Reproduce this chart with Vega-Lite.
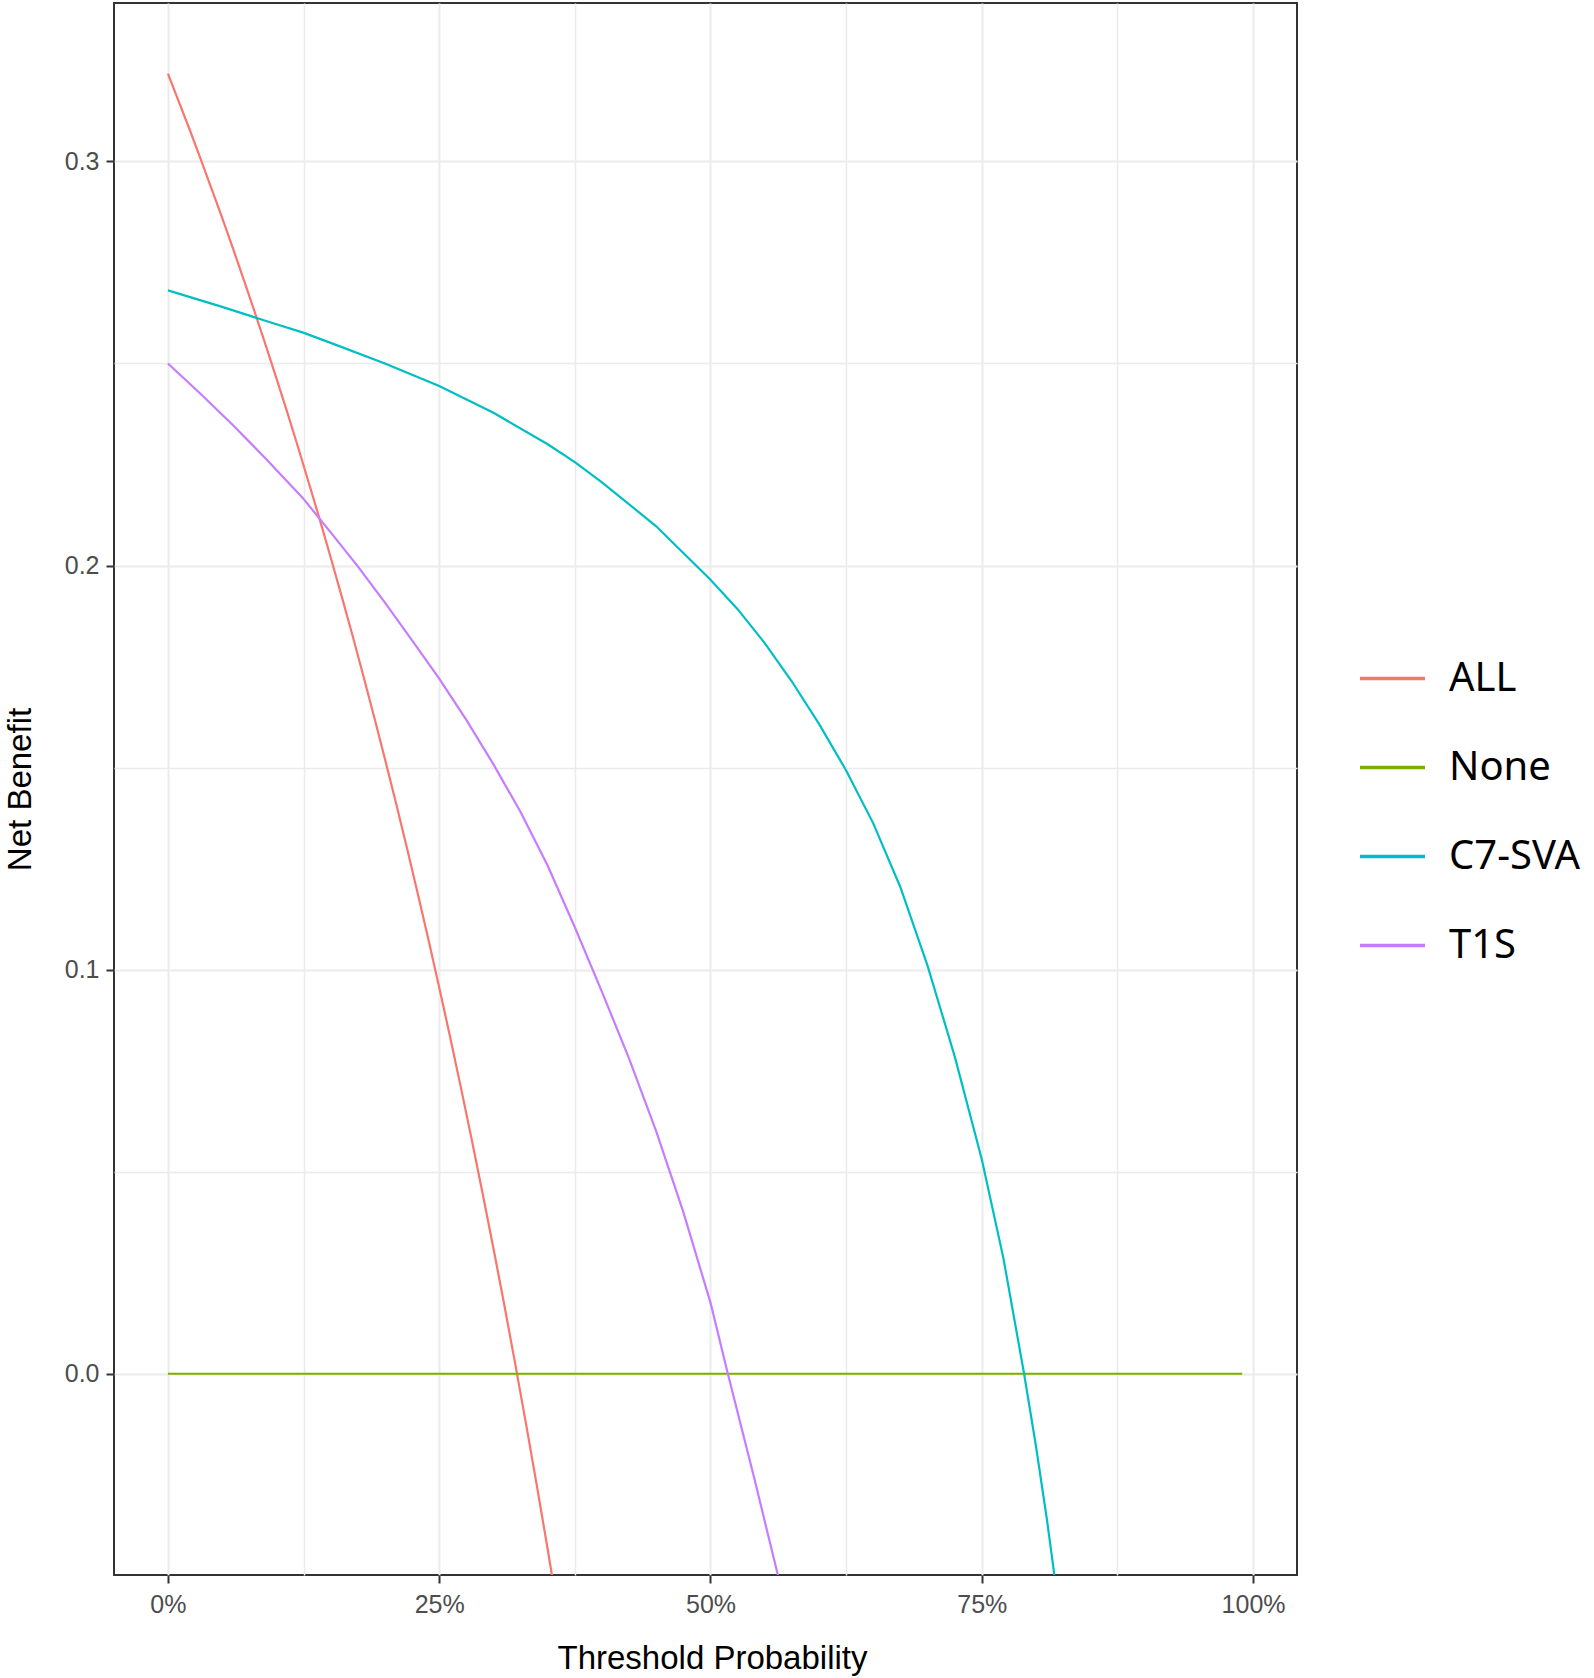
{
  "$schema": "https://vega.github.io/schema/vega-lite/v6.json",
  "width": 1183,
  "height": 1572,
  "autosize": {"type": "none"},
  "padding": {"left": 114, "top": 3, "right": 297, "bottom": 103},
  "background": "white",
  "config": {
    "view": {"stroke": "#333333", "strokeWidth": 2},
    "axis": {
      "domain": false,
      "grid": true,
      "gridColor": "#EBEBEB",
      "tickColor": "#333333",
      "tickWidth": 2,
      "tickSize": 8,
      "labelFont": "Liberation Sans",
      "labelFontSize": 25,
      "labelColor": "#4D4D4D",
      "labelOverlap": false,
      "labelFlush": false,
      "titleFont": "Liberation Sans",
      "titleFontSize": 33,
      "titleFontWeight": "normal",
      "titleColor": "#000000"
    }
  },
  "data": {
    "values": [
      {"model": "ALL", "t": 0.00, "nb": 0.3217},
      {"model": "ALL", "t": 0.01, "nb": 0.3148},
      {"model": "ALL", "t": 0.02, "nb": 0.3079},
      {"model": "ALL", "t": 0.03, "nb": 0.3007},
      {"model": "ALL", "t": 0.04, "nb": 0.2934},
      {"model": "ALL", "t": 0.05, "nb": 0.2860},
      {"model": "ALL", "t": 0.06, "nb": 0.2784},
      {"model": "ALL", "t": 0.07, "nb": 0.2706},
      {"model": "ALL", "t": 0.08, "nb": 0.2627},
      {"model": "ALL", "t": 0.09, "nb": 0.2546},
      {"model": "ALL", "t": 0.10, "nb": 0.2463},
      {"model": "ALL", "t": 0.11, "nb": 0.2379},
      {"model": "ALL", "t": 0.12, "nb": 0.2292},
      {"model": "ALL", "t": 0.13, "nb": 0.2203},
      {"model": "ALL", "t": 0.14, "nb": 0.2113},
      {"model": "ALL", "t": 0.15, "nb": 0.2020},
      {"model": "ALL", "t": 0.16, "nb": 0.1925},
      {"model": "ALL", "t": 0.17, "nb": 0.1828},
      {"model": "ALL", "t": 0.18, "nb": 0.1728},
      {"model": "ALL", "t": 0.19, "nb": 0.1626},
      {"model": "ALL", "t": 0.20, "nb": 0.1521},
      {"model": "ALL", "t": 0.21, "nb": 0.1414},
      {"model": "ALL", "t": 0.22, "nb": 0.1304},
      {"model": "ALL", "t": 0.23, "nb": 0.1191},
      {"model": "ALL", "t": 0.24, "nb": 0.1075},
      {"model": "ALL", "t": 0.25, "nb": 0.0956},
      {"model": "ALL", "t": 0.26, "nb": 0.0834},
      {"model": "ALL", "t": 0.27, "nb": 0.0708},
      {"model": "ALL", "t": 0.28, "nb": 0.0579},
      {"model": "ALL", "t": 0.29, "nb": 0.0446},
      {"model": "ALL", "t": 0.30, "nb": 0.0310},
      {"model": "ALL", "t": 0.31, "nb": 0.0170},
      {"model": "ALL", "t": 0.32, "nb": 0.0025},
      {"model": "ALL", "t": 0.33, "nb": -0.0124},
      {"model": "ALL", "t": 0.34, "nb": -0.0277},
      {"model": "ALL", "t": 0.35, "nb": -0.0435},
      {"model": "ALL", "t": 0.36, "nb": -0.0598},
      {"model": "None", "t": 0.00, "nb": 0},
      {"model": "None", "t": 0.25, "nb": 0},
      {"model": "None", "t": 0.50, "nb": 0},
      {"model": "None", "t": 0.75, "nb": 0},
      {"model": "None", "t": 0.99, "nb": 0},
      {"model": "C7-SVA", "t": 0.000, "nb": 0.2681},
      {"model": "C7-SVA", "t": 0.050, "nb": 0.2640},
      {"model": "C7-SVA", "t": 0.100, "nb": 0.2597},
      {"model": "C7-SVA", "t": 0.124, "nb": 0.2577},
      {"model": "C7-SVA", "t": 0.150, "nb": 0.2551},
      {"model": "C7-SVA", "t": 0.200, "nb": 0.2500},
      {"model": "C7-SVA", "t": 0.250, "nb": 0.2444},
      {"model": "C7-SVA", "t": 0.300, "nb": 0.2378},
      {"model": "C7-SVA", "t": 0.350, "nb": 0.2300},
      {"model": "C7-SVA", "t": 0.375, "nb": 0.2256},
      {"model": "C7-SVA", "t": 0.400, "nb": 0.2206},
      {"model": "C7-SVA", "t": 0.450, "nb": 0.2097},
      {"model": "C7-SVA", "t": 0.500, "nb": 0.1965},
      {"model": "C7-SVA", "t": 0.525, "nb": 0.1892},
      {"model": "C7-SVA", "t": 0.550, "nb": 0.1808},
      {"model": "C7-SVA", "t": 0.575, "nb": 0.1713},
      {"model": "C7-SVA", "t": 0.600, "nb": 0.1608},
      {"model": "C7-SVA", "t": 0.625, "nb": 0.1493},
      {"model": "C7-SVA", "t": 0.650, "nb": 0.1362},
      {"model": "C7-SVA", "t": 0.675, "nb": 0.1204},
      {"model": "C7-SVA", "t": 0.700, "nb": 0.1010},
      {"model": "C7-SVA", "t": 0.725, "nb": 0.0786},
      {"model": "C7-SVA", "t": 0.750, "nb": 0.0531},
      {"model": "C7-SVA", "t": 0.770, "nb": 0.0285},
      {"model": "C7-SVA", "t": 0.789, "nb": 0.0000},
      {"model": "C7-SVA", "t": 0.800, "nb": -0.0180},
      {"model": "C7-SVA", "t": 0.810, "nb": -0.0360},
      {"model": "C7-SVA", "t": 0.816, "nb": -0.0480},
      {"model": "C7-SVA", "t": 0.820, "nb": -0.0570},
      {"model": "T1S", "t": 0.000, "nb": 0.2500},
      {"model": "T1S", "t": 0.030, "nb": 0.2425},
      {"model": "T1S", "t": 0.060, "nb": 0.2347},
      {"model": "T1S", "t": 0.090, "nb": 0.2265},
      {"model": "T1S", "t": 0.124, "nb": 0.2168},
      {"model": "T1S", "t": 0.150, "nb": 0.2082},
      {"model": "T1S", "t": 0.175, "nb": 0.1998},
      {"model": "T1S", "t": 0.200, "nb": 0.1908},
      {"model": "T1S", "t": 0.225, "nb": 0.1815},
      {"model": "T1S", "t": 0.250, "nb": 0.1720},
      {"model": "T1S", "t": 0.275, "nb": 0.1618},
      {"model": "T1S", "t": 0.300, "nb": 0.1508},
      {"model": "T1S", "t": 0.325, "nb": 0.1390},
      {"model": "T1S", "t": 0.350, "nb": 0.1257},
      {"model": "T1S", "t": 0.375, "nb": 0.1105},
      {"model": "T1S", "t": 0.400, "nb": 0.0945},
      {"model": "T1S", "t": 0.425, "nb": 0.0780},
      {"model": "T1S", "t": 0.450, "nb": 0.0600},
      {"model": "T1S", "t": 0.475, "nb": 0.0400},
      {"model": "T1S", "t": 0.500, "nb": 0.0176},
      {"model": "T1S", "t": 0.516, "nb": 0.0000},
      {"model": "T1S", "t": 0.540, "nb": -0.0255},
      {"model": "T1S", "t": 0.562, "nb": -0.0497},
      {"model": "T1S", "t": 0.570, "nb": -0.0590}
    ]
  },
  "mark": {"type": "line", "clip": true, "strokeWidth": 2.2},
  "encoding": {
    "x": {
      "field": "t",
      "type": "quantitative",
      "scale": {"domain": [-0.0497, 1.0405], "nice": false, "zero": false},
      "axis": {
        "title": "Threshold Probability",
        "titleBaseline": "alphabetic",
        "titleX": 598,
        "titleY": 93,
        "values": [0, 0.125, 0.25, 0.375, 0.5, 0.625, 0.75, 0.875, 1],
        "labelExpr": "round(datum.value*1000) % 250 != 0 ? '' : format(datum.value, '.0%')",
        "labelPadding": 9,
        "tickOpacity": {"condition": {"test": "round(datum.value*1000) % 250 != 0", "value": 0}, "value": 1},
        "gridWidth": {"condition": {"test": "round(datum.value*1000) % 250 != 0", "value": 1.5}, "value": 2}
      }
    },
    "y": {
      "field": "nb",
      "type": "quantitative",
      "scale": {"domain": [-0.0498, 0.3392], "nice": false, "zero": false},
      "axis": {
        "title": "Net Benefit",
        "titleBaseline": "alphabetic",
        "titleX": -84,
        "titleY": 786,
        "values": [0, 0.05, 0.1, 0.15, 0.2, 0.25, 0.3],
        "labelExpr": "round(datum.value*100) % 10 != 0 ? '' : format(datum.value, '.1f')",
        "labelPadding": 7,
        "tickOpacity": {"condition": {"test": "round(datum.value*100) % 10 != 0", "value": 0}, "value": 1},
        "gridWidth": {"condition": {"test": "round(datum.value*100) % 10 != 0", "value": 1.5}, "value": 2}
      }
    },
    "color": {
      "field": "model",
      "type": "nominal",
      "scale": {
        "domain": ["ALL", "None", "C7-SVA", "T1S"],
        "range": ["#F8766D", "#7CAE00", "#00BFC4", "#C77CFF"]
      },
      "legend": {
        "orient": "none",
        "legendX": 1244,
        "legendY": 641,
        "title": null,
        "padding": 0,
        "symbolType": "stroke",
        "symbolSize": 4225,
        "symbolStrokeWidth": 3.5,
        "labelFont": "Noto Sans",
        "labelFontSize": 40,
        "labelColor": "#000000",
        "labelOffset": 22,
        "labelLimit": 400,
        "rowPadding": 34
      }
    }
  }
}
